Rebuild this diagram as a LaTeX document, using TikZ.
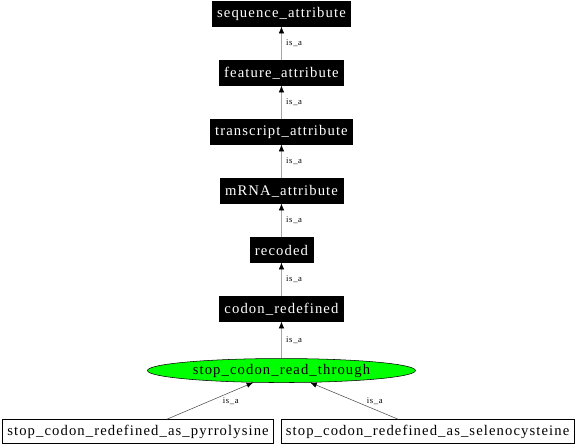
\documentclass[tikz,border=0pt]{standalone}
\usepackage{fontspec}
\setmainfont{Liberation Serif}[LetterSpace=7.5]
\usetikzlibrary{arrows.meta,shapes.geometric}
\tikzset{%
  >={Latex[width=4pt,length=5pt,color=black]},
  % Specifications for style of nodes:
       base/.style = {rectangle, draw=black, minimum height=18.5pt,
                      inner xsep=3.7pt, text centered,
                      font=\fontsize{11}{12}\selectfont},
     parent/.style = {base, fill=black, text=white},
       leaf/.style = {base, fill=white, minimum height=18pt},
    current/.style = {ellipse, draw=black, fill=green, minimum width=201pt,
                      minimum height=18pt, inner sep=0pt,
                      font=\fontsize{11}{12}\selectfont},
       isa/.style = {font=\fontsize{6.5}{7}\selectfont, text=black},
}

\begin{document}
\begin{tikzpicture}[node distance=44.25pt]
  \useasboundingbox (0,0) rectangle (432pt,-335.25pt);
  % Specification of nodes (position, etc.)
  \node (seq)    [parent] at (211.1pt,-10.5pt) {sequence\_attribute};
  \node (feat)   [parent, below of=seq]        {feature\_attribute};
  \node (trans)  [parent, below of=feat]       {transcript\_attribute};
  \node (mrna)   [parent, below of=trans]      {mRNA\_attribute};
  \node (rec)    [parent, below of=mrna]       {recoded};
  \node (codon)  [parent, below of=rec]        {codon\_redefined};
  \node (read)   [current, below of=codon, yshift=-1.9pt]
        {stop\_codon\_read\_through};
  \node (pyr)    [leaf, below of=read, xshift=-107.6pt, yshift=-1.5pt]
        {stop\_codon\_redefined\_as\_pyrrolysine};
  \node (seleno) [leaf, below of=read, xshift=109.6pt, yshift=-1.5pt]
        {stop\_codon\_redefined\_as\_selenocysteine};

  \draw[->, gray!70]        (feat) -- node[isa, right] {is\_a} (seq);
  \draw[->, gray!70]       (trans) -- node[isa, right] {is\_a} (feat);
  \draw[->, gray!70]        (mrna) -- node[isa, right] {is\_a} (trans);
  \draw[->, gray!70]         (rec) -- node[isa, right] {is\_a} (mrna);
  \draw[->, gray!70]       (codon) -- node[isa, right] {is\_a} (rec);
  \draw[->, gray!70]        (read) -- node[isa, right] {is\_a} (codon);
  \draw[->, black!70]        (pyr) -- node[isa, right, xshift=6pt] {is\_a} (read);
  \draw[->, black!70]     (seleno) -- node[isa, right, xshift=6pt] {is\_a} (read);
\end{tikzpicture}
\end{document}
